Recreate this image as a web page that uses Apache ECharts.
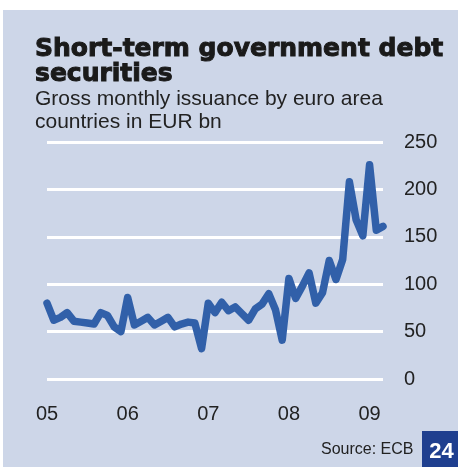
<!DOCTYPE html>
<html>
<head>
<meta charset="utf-8">
<script src="https://cdn.jsdelivr.net/npm/echarts@6/dist/echarts.min.js"></script>
<style>
  html, body { margin: 0; padding: 0; background: #ffffff; }
  #chart { width: 458px; height: 467px; }
</style>
</head>
<body>
<div id="chart"></div>
<script>
// Monthly issuance, Jan 2005 – Mar 2009 (EUR bn)
const months = [];
for (let y = 2005; y <= 2009; y++) {
  for (let m = 1; m <= 12; m++) {
    if (y === 2009 && m > 3) break;
    months.push(y + '-' + String(m).padStart(2, '0'));
  }
}
const issuance = [
  80, 62, 65, 70, 61, 60, 59, 58, 70, 67, 55, 50,
  86, 57, 61, 65, 57, 61, 65, 55, 58, 60, 59, 32,
  80, 70, 81, 72, 76, 69, 62, 74, 79, 90, 73, 41,
  106, 85, 98, 112, 80, 91, 125, 105, 126, 208, 168, 151,
  226, 157, 161
];
const yearLabels = { '2005-01': '05', '2006-01': '06', '2007-01': '07', '2008-01': '08', '2009-01': '09' };
const yTicks = [0, 50, 100, 150, 200, 250];

const chart = echarts.init(document.getElementById('chart'), null, { renderer: 'canvas' });
const font = 'Liberation Sans, Arial, sans-serif';
const heavy = 'DejaVu Sans, Liberation Sans, sans-serif';

chart.setOption({
  animation: false,
  backgroundColor: '#ffffff',
  graphic: [
    { type: 'rect', left: 3, top: 10, shape: { width: 455, height: 457 }, style: { fill: '#cdd6e8' }, z: -10 },
    { type: 'rect', left: 422, top: 431, shape: { width: 36, height: 36 }, style: { fill: '#1f3f8f' } },
    { type: 'text', x: 441.5, y: 452, style: { text: '24', fill: '#ffffff', font: 'bold 22px ' + font, align: 'center', verticalAlign: 'middle' } },
    { type: 'text', x: 321, y: 450, style: { text: 'Source: ECB', fill: '#222222', font: '16px ' + font, verticalAlign: 'middle' } },
    { type: 'text', x: 35, y: 49, style: { text: 'Short-term government debt', fill: '#1a1a1a', font: 'bold 25px ' + heavy, verticalAlign: 'middle', stroke: '#1a1a1a', lineWidth: 1 } },
    { type: 'text', x: 35, y: 74, style: { text: 'securities', fill: '#1a1a1a', font: 'bold 25px ' + heavy, verticalAlign: 'middle', stroke: '#1a1a1a', lineWidth: 1 } },
    { type: 'text', x: 35, y: 99, style: { text: 'Gross monthly issuance by euro area', fill: '#222222', font: '21px ' + font, verticalAlign: 'middle' } },
    { type: 'text', x: 35, y: 122.5, style: { text: 'countries in EUR bn', fill: '#222222', font: '21px ' + font, verticalAlign: 'middle' } }
  ],
  grid: { left: 47, right: 75, top: 142, bottom: 88, containLabel: false },
  xAxis: {
    type: 'category',
    data: months,
    boundaryGap: false,
    axisLine: { show: false },
    axisTick: { show: false },
    splitLine: { show: false },
    axisLabel: {
      interval: (i, v) => v in yearLabels,
      formatter: v => yearLabels[v] || '',
      color: '#222222',
      fontSize: 20,
      fontFamily: font,
      margin: 25
    }
  },
  yAxis: {
    type: 'value',
    position: 'right',
    min: yTicks[0],
    max: yTicks[yTicks.length - 1],
    interval: 50,
    axisLine: { show: false },
    axisTick: { show: false },
    splitLine: { lineStyle: { color: '#ffffff', width: 3 } },
    axisLabel: {
      color: '#222222',
      fontSize: 20,
      fontFamily: font,
      align: 'left',
      margin: 21
    }
  },
  series: [{
    type: 'line',
    data: issuance,
    symbol: 'none',
    lineStyle: { color: '#3160a9', width: 7.5, join: 'round', cap: 'round' },
    z: 5
  }]
});
</script>
</body>
</html>
